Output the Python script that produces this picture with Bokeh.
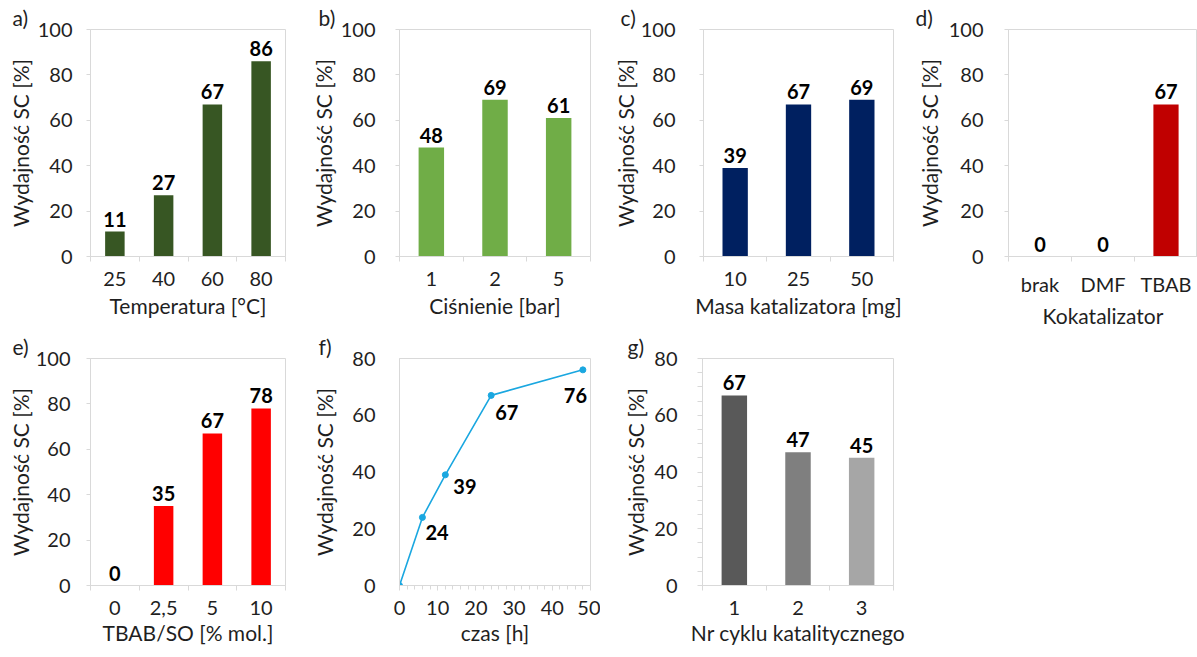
from bokeh.plotting import figure
from bokeh.models import Range1d, FixedTicker, ColumnDataSource
from bokeh.layouts import row, column
from bokeh.embed import file_html
from bokeh.resources import INLINE
from bokeh.core.properties import value

# ---------------- data ----------------
temp_cats = ["25", "40", "60", "80"]
temp_vals = [11, 27, 67, 86]

press_cats = ["1", "2", "5"]
press_vals = [48, 69, 61]

mass_cats = ["10", "25", "50"]
mass_vals = [39, 67, 69]

cocat_cats = ["brak", "DMF", "TBAB"]
cocat_vals = [0, 0, 67]

tbab_cats = ["0", "2,5", "5", "10"]
tbab_vals = [0, 35, 67, 78]

time_h = [0, 6, 12, 24, 48]
time_vals = [0, 24, 39, 67, 76]

cycle_cats = ["1", "2", "3"]
cycle_vals = [67, 47, 45]

y_ticks_100 = [0, 20, 40, 60, 80, 100]
y_ticks_80 = [0, 20, 40, 60, 80]
time_ticks = [0, 10, 20, 30, 40, 50]

# ---------------- style ----------------
FONT = "Lato"
GRID = "#D9D9D9"
TXT = "#1f1f1f"
FS = "20px"
FSL = "21px"
YLABEL = "Wydajność SC [%]"


def make_fig(w, h, bl, br, bt, bb, xr, yr, ystand, ylabstand, xstand, xlabstand):
    p = figure(width=w, height=h, x_range=xr, y_range=yr,
               min_border_left=bl, min_border_right=br,
               min_border_top=bt, min_border_bottom=bb,
               output_backend="svg", toolbar_location=None)
    p.grid.visible = False
    p.outline_line_color = GRID
    p.outline_line_width = 1
    p.background_fill_color = "white"
    p.border_fill_color = "white"
    for ax in (p.xaxis[0], p.yaxis[0]):
        ax.axis_line_color = GRID
        ax.major_tick_line_color = GRID
        ax.minor_tick_line_color = GRID
        ax.major_tick_in = 0
        ax.minor_tick_in = 0
        ax.major_label_text_font = FONT
        ax.major_label_text_font_size = FS
        ax.major_label_text_color = TXT
        ax.axis_label_text_font = FONT
        ax.axis_label_text_font_size = FSL
        ax.axis_label_text_font_style = "normal"
        ax.axis_label_text_color = TXT
    p.yaxis.axis_label = YLABEL
    p.yaxis.major_tick_out = 4
    p.yaxis.minor_tick_out = 0
    p.yaxis.major_label_standoff = ystand
    p.yaxis.axis_label_standoff = ylabstand
    p.xaxis.major_tick_out = 5
    p.xaxis.major_label_standoff = xstand
    p.xaxis.axis_label_standoff = xlabstand
    return p


def tag(p, text, dx):
    # panel letter, drawn as the figure title, shifted left of the frame
    p.title.text = text
    p.title.align = "left"
    p.title.offset = dx
    p.title.standoff = 0
    p.title.text_font = FONT
    p.title.text_font_size = FSL
    p.title.text_font_style = "normal"
    p.title.text_color = TXT


def bar_panel(cats, vals, colors, xlabel, ticks, w, h, bl, br, bt, bb,
              ystand, ylabstand, xstand, xlabstand):
    n = len(cats)
    idx = list(range(n))
    p = make_fig(w, h, bl, br, bt, bb, Range1d(-0.5, n - 0.5), Range1d(0, ticks[-1]),
                 ystand, ylabstand, xstand, xlabstand)
    src = ColumnDataSource(dict(x=idx, top=vals, color=colors,
                                lab=[str(v) for v in vals]))
    p.vbar(x="x", top="top", width=0.4, bottom=0, fill_color="color",
           line_color=None, source=src)
    p.text(x="x", y="top", text="lab", source=src, text_align="center",
           text_baseline="bottom", y_offset=-5,
           text_font=value(FONT), text_font_style="bold",
           text_font_size=FS, text_color="black")
    p.xaxis.ticker = FixedTicker(ticks=idx, minor_ticks=[i - 0.5 for i in range(n + 1)])
    p.xaxis.major_label_overrides = {i: c for i, c in zip(idx, cats)}
    p.xaxis.major_tick_line_color = None
    p.xaxis.minor_tick_out = 5
    p.xaxis.axis_label = xlabel
    p.yaxis.ticker = FixedTicker(ticks=ticks)
    return p


# ---------------- row 1 ----------------
pa = bar_panel(temp_cats, temp_vals, ["#375623"] * 4, "Temperatura [°C]",
               y_ticks_100, 300, 330, 90, 15, 29, 74, 14, 2, 10, 4)
tag(pa, "a)", -78)
pb = bar_panel(press_cats, press_vals, ["#70AD47"] * 3, "Ciśnienie [bar]",
               y_ticks_100, 300, 330, 99, 10, 29, 74, 20, 2, 10, 4)
tag(pb, "b)", -81)
pc = bar_panel(mass_cats, mass_vals, ["#002060"] * 3, "Masa katalizatora [mg]",
               y_ticks_100, 305, 330, 103, 12, 29, 74, 24, 0, 10, 4)
tag(pc, "c)", -83)
pd = bar_panel(cocat_cats, cocat_vals, ["#C00000"] * 3, "Kokatalizator",
               y_ticks_100, 292, 330, 103, 0, 29, 74, 21, 4, 10, 4)
tag(pd, "d)", -93)

# ---------------- row 2 ----------------
pe = bar_panel(tbab_cats, tbab_vals, ["#FF0000"] * 4, "TBAB/SO [% mol.]",
               y_ticks_100, 300, 327, 90, 15, 28, 72, 16, 0, 10, 2)
tag(pe, "e)", -78)

pf = make_fig(300, 327, 99, 10, 28, 72, Range1d(0, 50), Range1d(0, 80), 24, 12, 10, 2)
pf.line(time_h, time_vals, line_color="#1AA7E0", line_width=1.6)
pf.scatter(time_h, time_vals, size=6, fill_color="#1AA7E0", line_color="#1AA7E0")
fsrc = ColumnDataSource(dict(x=time_h[1:], y=time_vals[1:],
                             lab=[str(v) for v in time_vals[1:]],
                             dx=[3, 8, 4, -19], dy=[15, 12, 17, 26]))
pf.text(x="x", y="y", text="lab", source=fsrc, x_offset="dx", y_offset="dy",
        text_align="left", text_baseline="middle",
        text_font=value(FONT), text_font_style="bold",
        text_font_size=FS, text_color="black")
pf.xaxis.ticker = FixedTicker(ticks=time_ticks, minor_ticks=list(range(0, 51, 2)))
pf.xaxis.minor_tick_out = 4
pf.xaxis.axis_label = "czas [h]"
pf.yaxis.ticker = FixedTicker(ticks=y_ticks_80)
pf.yaxis.major_tick_out = 0
tag(pf, "f)", -81)

pg = bar_panel(cycle_cats, cycle_vals, ["#595959", "#7F7F7F", "#A6A6A6"],
               "Nr cyklu katalitycznego", y_ticks_80, 305, 327, 102, 12, 28, 72,
               20, 3, 10, 2)
pg.yaxis.ticker = FixedTicker(ticks=y_ticks_80, minor_ticks=list(range(0, 81, 5)))
pg.yaxis.minor_tick_out = 5
tag(pg, "g)", -75)

layout = column(row(pa, pb, pc, pd), row(pe, pf, pg))

open("out.html", "w").write(file_html(layout, INLINE))
